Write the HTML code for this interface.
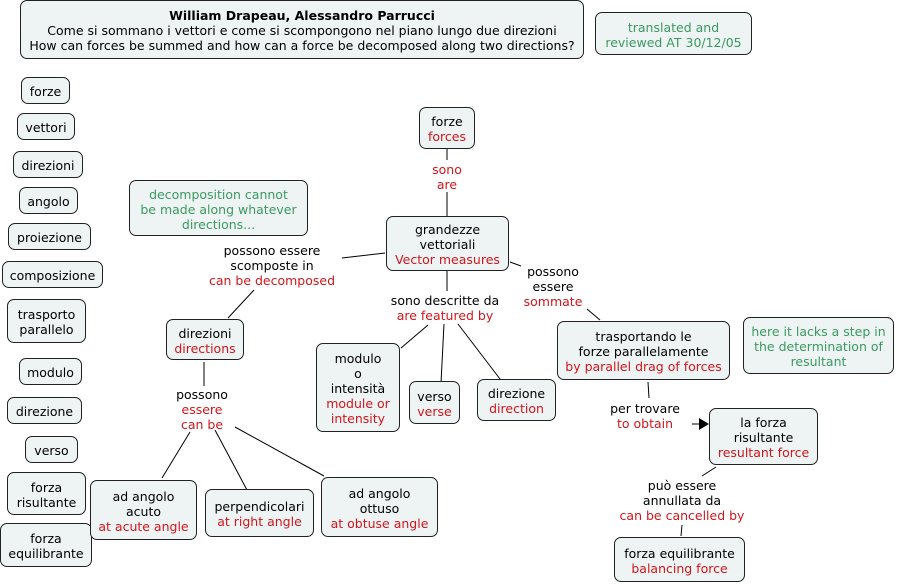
<!DOCTYPE html>
<html><head><meta charset="utf-8"><style>
body{margin:0;width:898px;height:585px;background:#fff;position:relative;overflow:hidden;font-family:"DejaVu Sans","Liberation Sans",sans-serif;font-size:12.5px;line-height:15px;color:#000}
.b{position:absolute;box-sizing:border-box;background:#eef3f4;border:1px solid #222;border-radius:7px;display:flex;flex-direction:column;justify-content:center;align-items:center;text-align:center;white-space:nowrap;padding-top:2px}
.l{position:absolute;text-align:center;white-space:nowrap;transform:translateX(-50%);margin-top:1px}
.r{color:#d2161c}.g{color:#3a9a60}
svg{position:absolute;left:0;top:0}
</style></head><body>
<svg width="898" height="585"><g stroke="#000" stroke-width="1" fill="none">
<line x1="447" y1="149" x2="447" y2="160"/><line x1="447" y1="192" x2="447" y2="216"/>
<line x1="342" y1="258" x2="385" y2="253"/><line x1="254" y1="290" x2="228" y2="318"/>
<line x1="447" y1="271" x2="447" y2="291"/>
<line x1="428" y1="325" x2="401" y2="348"/><line x1="444" y1="324" x2="441" y2="383"/><line x1="458" y1="324" x2="500" y2="379"/>
<line x1="510" y1="262" x2="521" y2="266"/><line x1="587" y1="309" x2="600" y2="320"/>
<line x1="204" y1="362" x2="204" y2="386"/>
<line x1="190" y1="432" x2="162" y2="478"/><line x1="215" y1="430" x2="247" y2="490"/><line x1="235" y1="427" x2="324" y2="476"/>
<line x1="648" y1="382" x2="649" y2="398"/><line x1="692" y1="424" x2="702" y2="424"/>
<line x1="716" y1="467" x2="702" y2="476"/><line x1="682" y1="525" x2="681" y2="536"/>
</g><polygon points="699,418 709,424 699,430" fill="#000"/></svg>

<div class="b" style="left:20px;top:0;width:564px;height:59px"><b>William Drapeau, Alessandro Parrucci</b><span>Come si sommano i vettori e come si scompongono nel piano lungo due direzioni</span><span>How can forces be summed and how can a force be decomposed along two directions?</span></div>
<div class="b g" style="left:595px;top:12px;width:157px;height:43px">translated and<br>reviewed AT 30/12/05</div>

<div class="b" style="left:21px;top:77px;width:49px;height:27px">forze</div>
<div class="b" style="left:17px;top:113px;width:58px;height:27px">vettori</div>
<div class="b" style="left:13px;top:151px;width:70px;height:27px">direzioni</div>
<div class="b" style="left:19px;top:187px;width:59px;height:27px">angolo</div>
<div class="b" style="left:8px;top:223px;width:83px;height:27px">proiezione</div>
<div class="b" style="left:2px;top:261px;width:101px;height:27px">composizione</div>
<div class="b" style="left:7px;top:299px;width:79px;height:44px">trasporto<br>parallelo</div>
<div class="b" style="left:19px;top:358px;width:63px;height:27px">modulo</div>
<div class="b" style="left:7px;top:397px;width:75px;height:27px">direzione</div>
<div class="b" style="left:25px;top:436px;width:53px;height:27px">verso</div>
<div class="b" style="left:7px;top:472px;width:79px;height:43px">forza<br>risultante</div>
<div class="b" style="left:0;top:523px;width:92px;height:44px">forza<br>equilibrante</div>

<div class="b" style="left:419px;top:107px;width:56px;height:42px">forze<span class="r">forces</span></div>
<div class="b g" style="left:129px;top:180px;width:179px;height:56px">decomposition cannot<br>be made along whatever<br>directions...</div>
<div class="b" style="left:386px;top:216px;width:123px;height:55px">grandezze<br>vettoriali<span class="r">Vector measures</span></div>
<div class="b" style="left:166px;top:319px;width:78px;height:41px">direzioni<span class="r">directions</span></div>
<div class="b" style="left:557px;top:321px;width:173px;height:59px">trasportando le<br>forze parallelamente<span class="r">by parallel drag of forces</span></div>
<div class="b g" style="left:743px;top:317px;width:151px;height:57px">here it lacks a step in<br>the determination of<br>resultant</div>
<div class="b" style="left:316px;top:343px;width:84px;height:89px">modulo<br>o<br>intensità<span class="r">module or<br>intensity</span></div>
<div class="b" style="left:409px;top:381px;width:51px;height:43px">verso<span class="r">verse</span></div>
<div class="b" style="left:477px;top:379px;width:79px;height:42px">direzione<span class="r">direction</span></div>
<div class="b" style="left:709px;top:408px;width:109px;height:57px">la forza<br>risultante<span class="r">resultant force</span></div>
<div class="b" style="left:90px;top:480px;width:107px;height:60px">ad angolo<br>acuto<span class="r">at acute angle</span></div>
<div class="b" style="left:205px;top:489px;width:109px;height:48px">perpendicolari<span class="r">at right angle</span></div>
<div class="b" style="left:321px;top:477px;width:117px;height:60px">ad angolo<br>ottuso<span class="r">at obtuse angle</span></div>
<div class="b" style="left:614px;top:537px;width:131px;height:45px">forza equilibrante<span class="r">balancing force</span></div>

<div class="l r" style="left:447px;top:161px">sono<br>are</div>
<div class="l" style="left:272px;top:242px">possono essere<br>scomposte in<br><span class="r">can be decomposed</span></div>
<div class="l" style="left:445px;top:292px">sono descritte da<br><span class="r">are featured by</span></div>
<div class="l" style="left:553px;top:263px">possono<br>essere<br><span class="r">sommate</span></div>
<div class="l" style="left:202px;top:386px">possono<br><span class="r">essere<br>can be</span></div>
<div class="l" style="left:645px;top:400px">per trovare<br><span class="r">to obtain</span></div>
<div class="l" style="left:682px;top:477px">può essere<br>annullata da<br><span class="r">can be cancelled by</span></div>
</body></html>
